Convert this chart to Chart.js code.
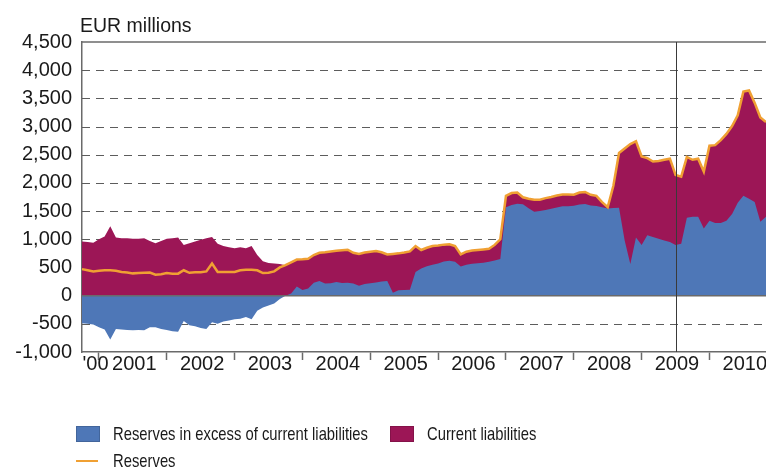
<!DOCTYPE html>
<html><head><meta charset="utf-8">
<script src="https://cdn.jsdelivr.net/npm/chart.js@4/dist/chart.umd.min.js"></script>
<style>
html,body{margin:0;padding:0;background:#fff;}
#wrap{position:relative;width:766px;height:468px;overflow:hidden;}
#c{position:absolute;left:0;top:0;}
.lg{position:absolute;font-family:'Liberation Sans',Arial,sans-serif;font-size:18.5px;color:#1a1a1a;white-space:nowrap;line-height:20px;transform:scaleX(0.8);transform-origin:0 50%;}
.sw{position:absolute;width:24px;height:16px;box-sizing:border-box;border:1px solid rgba(0,0,0,0.15);}
.ln{position:absolute;width:22px;height:2px;}
</style></head>
<body><div id="wrap"><canvas id="c" width="766" height="468"></canvas><div id="legend"></div></div>
<script>
// ---- data (monthly, Oct 2000 .. Nov 2010), EUR millions ----
const firstMonth = {year: 2000, month: 10};
const excess = [-490,-500,-510,-560,-600,-780,-590,-600,-610,-615,-610,-615,
  -560,-560,-590,-610,-630,-640,-450,-525,-545,-575,-590,-470,
  -500,-460,-440,-420,-410,-380,-420,-270,-210,-175,-140,-60,
  0,40,160,100,125,230,260,215,220,240,225,230,
  215,175,205,220,235,250,260,50,95,100,105,420,
  480,520,550,570,605,620,600,515,550,565,575,585,
  600,625,650,1570,1610,1630,1620,1550,1490,1500,1520,1540,
  1565,1585,1585,1595,1615,1625,1600,1590,1570,1545,1555,1560,
  980,560,1030,900,1070,1040,1010,980,950,900,920,1380,
  1400,1400,1190,1330,1290,1290,1330,1450,1650,1770,1720,1660,
  1310,1400];
const liabilities = [960,950,940,1000,1050,1230,1030,1020,1020,1010,1010,1020,
  970,930,970,1010,1020,1030,900,930,960,990,1020,1040,
  920,880,860,840,860,840,880,720,610,580,570,560,
  540,550,480,545,530,490,500,555,565,555,580,585,
  545,565,560,560,555,520,470,690,655,665,680,460,
  330,330,330,320,300,290,280,215,230,235,235,235,
  230,275,350,200,210,200,125,170,210,200,210,210,
  210,210,210,195,215,215,190,180,90,25,395,970,
  1630,2130,1710,1570,1370,1340,1380,1430,1480,1240,1190,1080,
  1010,1030,1010,1330,1380,1470,1540,1560,1550,1850,1920,1760,
  1850,1680];
const reserves = [470,450,430,440,450,450,440,420,410,395,400,405,
  410,370,380,400,390,390,450,405,415,415,430,570,
  420,420,420,420,450,460,460,450,400,405,430,500,
  540,590,640,645,655,720,760,770,785,795,805,815,
  760,740,765,780,790,770,730,740,750,765,785,880,
  810,850,880,890,905,910,880,730,780,800,810,820,
  830,900,1000,1770,1820,1830,1745,1720,1700,1700,1730,1750,
  1775,1795,1795,1790,1830,1840,1790,1770,1660,1570,1950,2530,
  2610,2690,2740,2470,2440,2380,2390,2410,2430,2140,2110,2460,
  2410,2430,2200,2660,2670,2760,2870,3010,3200,3620,3640,3420,
  3160,3080];
const seriesNames = ['Reserves in excess of current liabilities','Current liabilities','Reserves'];
const yearLabels = ["'00",'2001','2002','2003','2004','2005','2006','2007','2008','2009','2010'];
const yTicks = [-1000,-500,0,500,1000,1500,2000,2500,3000,3500,4000,4500];
const markerMonth = '2009-07';
const unitTitle = 'EUR millions';

const colors = {excess:'#4E77B7', liab:'#9C1656', res:'#F0A033'};

// month category labels
const months = excess.map((_, i) => {
  const t = firstMonth.year * 12 + (firstMonth.month - 1) + i;
  return Math.floor(t / 12) + '-' + String(t % 12 + 1).padStart(2, '0');
});
const janIdx = months.map((m, i) => m.endsWith('-01') ? i : -1).filter(i => i >= 0);
const julIdx = months.map((m, i) => m.endsWith('-07') ? i : -1).filter(i => i >= 0);
const liabTop = liabilities.map((l, i) => Math.max(excess[i], 0) + l);

const labelPos = {};
labelPos[janIdx[0] - 0.6] = yearLabels[0];
julIdx.forEach((ix, k) => { if (yearLabels[k + 1]) labelPos[ix + 0.25] = yearLabels[k + 1]; });
const boundarySet = new Set(janIdx);

const decor = {
  id: 'decor',
  beforeDatasetsDraw(chart) {
    const {ctx, chartArea: a, scales: {y}} = chart;
    ctx.save();
    ctx.strokeStyle = '#5c5c5c'; ctx.lineWidth = 1.2; ctx.setLineDash([8, 6]);
    y.ticks.forEach(t => {
      if (t.value === 0 || t.value === y.min || t.value === y.max) return;
      const py = Math.round(y.getPixelForValue(t.value)) + 0.5;
      ctx.beginPath(); ctx.moveTo(a.left, py); ctx.lineTo(a.right, py); ctx.stroke();
    });
    ctx.restore();
  },
  afterDatasetsDraw(chart) {
    const {ctx, chartArea: a, scales: {x, y}} = chart;
    ctx.save();
    ctx.strokeStyle = '#6a6a6a'; ctx.lineWidth = 1.5;
    const z = y.getPixelForValue(0);
    ctx.beginPath(); ctx.moveTo(a.left, z); ctx.lineTo(a.right, z); ctx.stroke();
    const top = y.getPixelForValue(y.max);
    ctx.beginPath(); ctx.moveTo(a.left, top); ctx.lineTo(a.right, top); ctx.stroke();
    const mx = Math.round(x.getPixelForValue(months.indexOf(markerMonth))) + 0.5;
    ctx.strokeStyle = '#3a3a3a'; ctx.lineWidth = 1;
    ctx.beginPath(); ctx.moveTo(mx, a.top); ctx.lineTo(mx, a.bottom); ctx.stroke();
    ctx.fillStyle = '#1a1a1a';
    ctx.font = "19.5px 'Liberation Sans', Arial, sans-serif";
    ctx.textBaseline = 'alphabetic'; ctx.textAlign = 'left';
    ctx.fillText(unitTitle, a.left - 2, 32);
    ctx.restore();
  }
};

const chart = new Chart(document.getElementById('c'), {
  type: 'line',
  data: {
    labels: months,
    datasets: [
      {label: seriesNames[2], data: reserves, borderColor: colors.res, borderWidth: 2.5,
       fill: false, pointRadius: 0, tension: 0},
      {label: seriesNames[0], data: excess, backgroundColor: colors.excess, borderColor: 'transparent',
       borderWidth: 0, fill: 'origin', pointRadius: 0, tension: 0},
      {label: seriesNames[1], data: liabTop, backgroundColor: colors.liab, borderColor: 'transparent',
       borderWidth: 0, fill: 'origin', pointRadius: 0, tension: 0}
    ]
  },
  options: {
    responsive: false, animation: false,
    layout: {padding: {top: 42, left: 0, right: 0, bottom: 0}},
    plugins: {legend: {display: false}, tooltip: {enabled: false}},
    scales: {
      x: {type: 'category', display: false, offset: false},
      xa: {
        type: 'linear', position: 'bottom', min: 0, max: months.length - 1,
        afterBuildTicks: s => {
          const vals = [...janIdx, ...Object.keys(labelPos).map(Number)].sort((a, b) => a - b);
          s.ticks = vals.map(v => ({value: v}));
        },
        afterFit: s => { s.height = 116; },
        grid: {drawOnChartArea: false, drawTicks: true, tickLength: 8,
               tickColor: c => (c.tick && boundarySet.has(c.tick.value)) ? '#6a6a6a' : 'rgba(0,0,0,0)',
               tickWidth: 1.5},
        border: {display: true, color: '#6a6a6a', width: 1.5},
        ticks: {autoSkip: false, maxRotation: 0, padding: -8, color: '#1a1a1a',
                font: {family: "'Liberation Sans', Arial, sans-serif", size: 20},
                callback: v => labelPos[v] !== undefined ? labelPos[v] : ''}
      },
      y: {
        min: yTicks[0], max: yTicks[yTicks.length - 1],
        afterBuildTicks: s => { s.ticks = yTicks.map(v => ({value: v})); },
        afterFit: s => { s.width = 82; },
        grid: {display: false, drawTicks: false},
        border: {display: true, color: '#6a6a6a', width: 1.5},
        ticks: {padding: 10, color: '#1a1a1a',
                font: {family: "'Liberation Sans', Arial, sans-serif", size: 20},
                callback: v => v.toLocaleString('en-US')}
      }
    }
  },
  plugins: [decor]
});

// HTML legend
const lg = document.getElementById('legend');
const items = [
  {name: seriesNames[0], color: colors.excess, type: 'box', left: 76, top: 426},
  {name: seriesNames[1], color: colors.liab, type: 'box', left: 390, top: 426},
  {name: seriesNames[2], color: colors.res, type: 'line', left: 76, top: 453}
];
items.forEach(it => {
  const m = document.createElement('div');
  if (it.type === 'box') { m.className = 'sw'; m.style.left = it.left + 'px'; m.style.top = it.top + 'px'; }
  else { m.className = 'ln'; m.style.left = it.left + 'px'; m.style.top = (it.top + 7) + 'px'; }
  m.style.background = it.color;
  lg.appendChild(m);
  const t = document.createElement('div');
  t.className = 'lg'; t.textContent = it.name;
  t.style.left = (it.left + 37) + 'px'; t.style.top = (it.top - 2) + 'px';
  lg.appendChild(t);
});
</script>
</body></html>
